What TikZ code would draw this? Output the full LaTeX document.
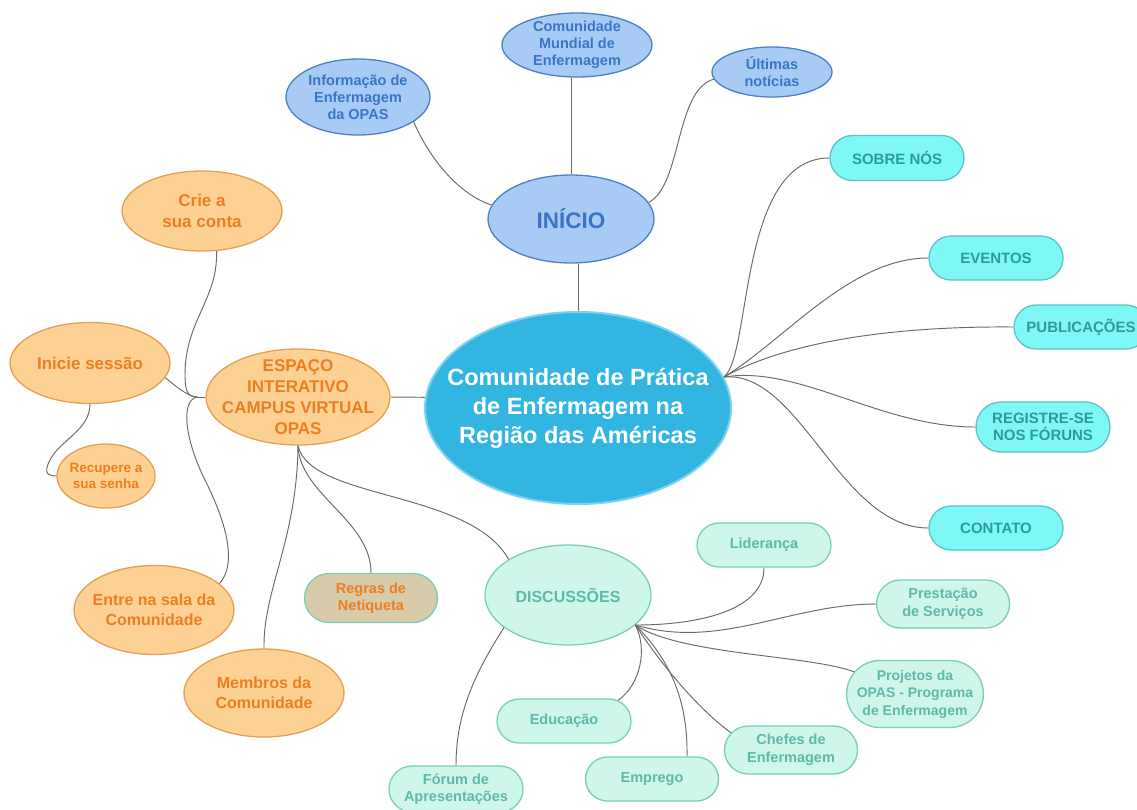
\documentclass[tikz,border=0pt]{standalone}
\usepackage{fontspec}
\setmainfont{Liberation Sans}
\usetikzlibrary{shapes.geometric,shapes.misc}
\definecolor{bfill}{HTML}{A8CBF6}
\definecolor{bdraw}{HTML}{4E7FC4}
\definecolor{btext}{HTML}{3A74C6}
\definecolor{cfill}{HTML}{33B5E2}
\definecolor{cdraw}{HTML}{7BD3F0}
\definecolor{cyfill}{HTML}{80F7F7}
\definecolor{cydraw}{HTML}{5BC4C4}
\definecolor{cytext}{HTML}{2A9C9E}
\definecolor{ofill}{HTML}{FDD193}
\definecolor{odraw}{HTML}{E5A052}
\definecolor{otext}{HTML}{EE7E22}
\definecolor{mfill}{HTML}{CFF6EA}
\definecolor{mdraw}{HTML}{7DCDB8}
\definecolor{mtext}{HTML}{5DB9AA}
\definecolor{rfill}{HTML}{D8CBA9}
\definecolor{lnk}{HTML}{6A6A6A}
\begin{document}
\begin{tikzpicture}[x=1pt,y=-1pt,
  sz/.style 2 args={minimum width=#1pt,minimum height=#2pt},
  elbase/.style={ellipse,inner xsep=-40pt,inner ysep=-8pt,align=center},
  rrbase/.style={rounded rectangle,inner sep=0pt,align=center},
  central/.style={elbase,fill=cfill,draw=cdraw,line width=2pt,text=white,
    font=\bfseries\fontsize{23.5}{29}\selectfont},
  bluenode/.style={elbase,fill=bfill,draw=bdraw,line width=1.3pt,text=btext,
    font=\bfseries\fontsize{14.5}{17}\selectfont},
  cyannode/.style={rrbase,fill=cyfill,draw=cydraw,line width=1.3pt,text=cytext,
    font=\bfseries\fontsize{15}{17.5}\selectfont,sz={134}{45}},
  orangenode/.style={elbase,fill=ofill,draw=odraw,line width=1.3pt,text=otext,
    font=\bfseries\fontsize{17}{20.5}\selectfont},
  mintnode/.style={rrbase,fill=mfill,draw=mdraw,line width=1.3pt,text=mtext,
    font=\bfseries\fontsize{14.5}{17.5}\selectfont,sz={134}{45}},
  con/.style={draw=lnk,line width=0.95pt}]
\useasboundingbox (0,0) rectangle (1137,809);
\fill[white] (0,0) rectangle (1137,809);

% ---- nodes ----
\node[central,sz={306}{192}] (c) at (578,408) {Comunidade de Prática\\de Enfermagem na\\Região das Américas};
\node[bluenode,sz={166}{88},font=\bfseries\fontsize{22.5}{24}\selectfont] (ini) at (571,219) {INÍCIO};
\node[bluenode,sz={144}{76}] (info) at (358,97) {Informação de\\Enfermagem\\da OPAS};
\node[bluenode,sz={150}{64}] (cmu) at (577,45) {Comunidade\\Mundial de\\Enfermagem};
\node[bluenode,sz={120}{50}] (ult) at (772,72) {Últimas\\notícias};

\node[cyannode] (sob) at (897,158) {SOBRE NÓS};
\node[cyannode,sz={134}{44}] (eve) at (996,258) {EVENTOS};
\node[cyannode,sz={134}{44}] (pub) at (1081,327) {PUBLICAÇÕES};
\node[cyannode,sz={134}{50}] (regi) at (1043,427) {REGISTRE-SE\\NOS FÓRUNS};
\node[cyannode,sz={134}{44}] (cont) at (996,528) {CONTATO};

\node[orangenode,sz={160}{80}] (crie) at (202,211) {Crie a\\sua conta};
\node[orangenode,sz={160}{81}] (inic) at (90,363) {Inicie sessão};
\node[orangenode,sz={184}{96},font=\bfseries\fontsize{17}{21}\selectfont] (esp) at (298,397) {ESPAÇO\\INTERATIVO\\CAMPUS VIRTUAL\\OPAS};
\node[orangenode,sz={98}{64},font=\bfseries\fontsize{13.5}{16.5}\selectfont] (rec) at (106,476) {Recupere a\\sua senha};
\node[orangenode,sz={160}{89},font=\bfseries\fontsize{16}{20}\selectfont] (ent) at (154,610) {Entre na sala da\\Comunidade};
\node[orangenode,sz={160}{88},font=\bfseries\fontsize{16}{20}\selectfont] (mem) at (264,693) {Membros da\\Comunidade};
\node[rrbase,fill=rfill,draw=mdraw,line width=1.3pt,text=otext,
  font=\bfseries\fontsize{14.5}{17.5}\selectfont,sz={133}{49}] (net) at (371,598) {Regras de\\Netiqueta};

\node[elbase,fill=mfill,draw=mdraw,line width=1.3pt,text=mtext,
  font=\bfseries\fontsize{16}{18}\selectfont,sz={166}{100}] (disc) at (568,595) {DISCUSSÕES};
\node[mintnode,sz={134}{44}] (lid) at (764,545) {Liderança};
\node[mintnode,sz={133}{48}] (pre) at (943,604) {Prestação\\de Serviços};
\node[mintnode,sz={134}{67},font=\bfseries\fontsize{14}{17.5}\selectfont] (proj) at (915,694) {Projetos da\\OPAS - Programa\\de Enfermagem};
\node[mintnode,sz={133}{48}] (chef) at (791,750) {Chefes de\\Enfermagem};
\node[mintnode,sz={133}{44}] (emp) at (652,779) {Emprego};
\node[mintnode,sz={134}{44}] (edu) at (564,721) {Educação};
\node[mintnode,sz={134}{46}] (for) at (456,789) {Fórum de\\Apresentações};

% ---- helper coordinates ----
\coordinate (hr) at (c.12);
\coordinate (hl) at ([xshift=-8pt]esp.west);
\coordinate (hd) at (disc.-24);

% ---- connectors ----
\draw[con] (c.north) -- (c.north |- ini.south);
\draw[con] (ini.north) -- (ini.north |- cmu.south);
\draw[con] (info.-24) .. controls (430,160) and (460,195) .. (ini.170);
\draw[con] (ini.12) .. controls (682,185) and (675,90) .. (ult.187);

\draw[con] (hr) .. controls (752,355) and (738,158) .. (sob.west);
\draw[con] (hr) .. controls (785,340) and (850,258) .. (eve.west);
\draw[con] (hr) .. controls (790,340) and (900,326) .. (pub.west);
\draw[con] (hr) .. controls (800,365) and (880,427) .. (regi.west);
\draw[con] (hr) .. controls (800,370) and (840,528) .. (cont.west);

\draw[con] (esp.east) -- (c.176);
\draw[con] (esp.west) -- (hl);
\draw[con] (hl) .. controls (188,397) and (185,392) .. (185,375)
  .. controls (185,320) and (218,300) .. (crie.-70);
\draw[con] (inic.-11) .. controls (180,390) and (190,397) .. (hl);
\draw[con] (hl) .. controls (180,400) and (185,440) .. (205,480)
  .. controls (235,540) and (232,570) .. (ent.22);
\draw[con] (inic.south) .. controls (90,430) and (60,440) .. (50,460)
  .. controls (42,475) and (50,476) .. (rec.west);

\draw[con] (esp.south) .. controls (297,540) and (263,590) .. (mem.north);
\draw[con] (esp.south) .. controls (300,495) and (371,520) .. (net.north);
\draw[con] (esp.south) .. controls (310,500) and (470,490) .. (disc.149);

\draw[con] (hd) .. controls (700,625) and (764,610) .. (lid.south);
\draw[con] (hd) .. controls (720,650) and (790,604) .. (pre.west);
\draw[con] (hd) .. controls (680,655) and (810,655) .. (proj.160);
\draw[con] (hd) .. controls (665,670) and (700,710) .. (chef.164);
\draw[con] (hd) .. controls (670,660) and (688,700) .. ([xshift=35pt]emp.north);
\draw[con] (hd) .. controls (648,650) and (640,685) .. (edu.21);
\draw[con] (disc.207) .. controls (470,680) and (456,720) .. (for.north);
\end{tikzpicture}
\end{document}
